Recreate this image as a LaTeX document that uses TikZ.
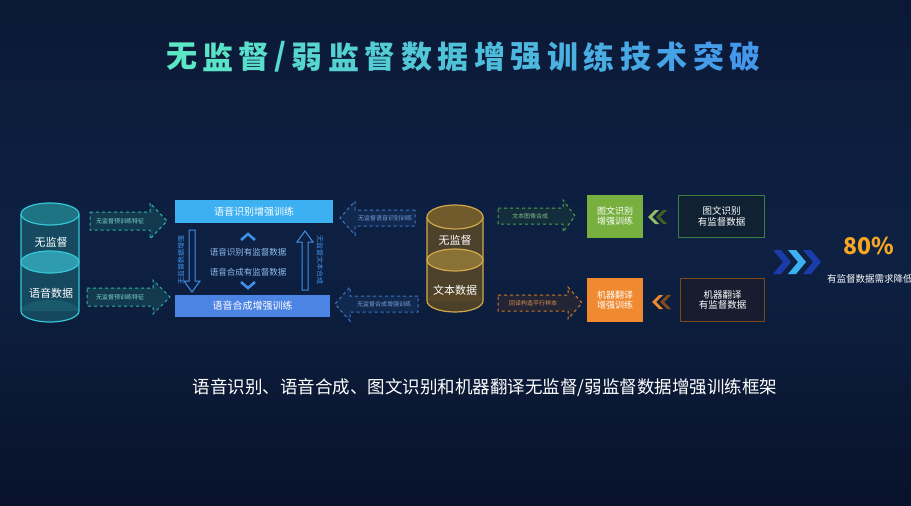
\documentclass[tikz,border=0pt]{standalone}
\usepackage{fontspec}
\newfontfamily\cjk{Noto Sans CJK SC}
\usetikzlibrary{shapes.geometric}
\definecolor{bgA}{HTML}{0B1936}
\definecolor{bgB}{HTML}{0E2143}
\definecolor{bgC}{HTML}{08122A}
\definecolor{tA}{HTML}{5CE8C6}
\definecolor{tB}{HTML}{4398EC}
\definecolor{teal}{HTML}{35C6D6}
\definecolor{tealbody}{HTML}{1B6676}
\definecolor{tealmid}{HTML}{2E9CAE}
\definecolor{gold}{HTML}{D2A94A}
\definecolor{goldbody}{HTML}{584726}
\definecolor{goldmid}{HTML}{8A7236}
\definecolor{arrteal}{HTML}{2FB5A8}
\definecolor{arrblue}{HTML}{3A78C8}
\definecolor{arrgreen}{HTML}{4AA050}
\definecolor{arrorange}{HTML}{D07828}
\definecolor{boxA}{HTML}{3DB0F2}
\definecolor{boxB}{HTML}{4C84E4}
\definecolor{midblue}{HTML}{3F8FE6}
\definecolor{midtext}{HTML}{8DBDF0}
\definecolor{grn}{HTML}{78B040}
\definecolor{org}{HTML}{F08A30}
\definecolor{pct}{HTML}{F5A623}
\newcommand\blockarrow[7]{%
  \filldraw[#1] (#2,{#5-#6}) -- (#3,{#5-#6}) -- (#3,{#5-#7}) -- (#4,#5)
    -- (#3,{#5+#7}) -- (#3,{#5+#6}) -- (#2,{#5+#6}) -- cycle;}
\tikzset{
  lbl/.style={font=\cjk\fontsize{#1}{#1}\selectfont, text=white, inner sep=0pt},
  arrlbl/.style={font=\cjk\fontsize{6}{6}\selectfont, inner sep=0pt},
  tealarr/.style={draw=arrteal, dashed, line width=1pt, fill=arrteal!25!bgA, fill opacity=0.8},
  bluearr/.style={draw=arrblue, dashed, line width=1pt, fill=arrblue!20!bgA, fill opacity=0.8},
  greenarr/.style={draw=arrgreen, dashed, line width=1pt, fill=arrgreen!18!bgA, fill opacity=0.8},
  orangearr/.style={draw=arrorange, dashed, line width=1pt, fill=arrorange!15!bgA, fill opacity=0.8},
  hollow/.style={draw=midblue, line width=1pt},
  chev/.style={draw=midblue, line width=2.6pt},
}
\begin{document}
\begin{tikzpicture}[x=1pt,y=-1pt]
\useasboundingbox (0,0) rectangle (911,506);
\clip (0,0) rectangle (911,506);
\shade[top color=bgA, bottom color=bgC, middle color=bgB] (0,0) rectangle (911,506);

% ---- title
\foreach \ch/\xx [count=\i] in {无/182,监/218,督/254,弱/307,监/343.5,督/380,数/416.5,据/453,增/489.5,强/526,训/562.5,练/599,技/635.5,术/672,突/708.5,破/745}{
  \pgfmathsetmacro\pc{100-100*((\xx-182)/563)}
  \node[font=\cjk\bfseries\fontsize{31}{31}\selectfont, text=tA!\pc!tB, inner sep=0pt] (t\i) at (\xx,57) {\ch};
}
\node[font=\cjk\bfseries\fontsize{31}{31}\selectfont, text=tA!81!tB, inner sep=0pt] (tslash) at (280.5,57) {/};

% ---- left teal cylinder
\fill[tealbody, fill opacity=0.6] (21,214) rectangle (79,311);
\fill[tealbody, fill opacity=0.6] (50,311) ellipse [x radius=29pt, y radius=11pt];
\draw[teal, line width=1.2pt] (21,214) -- (21,311) arc[start angle=180, end angle=360, x radius=29pt, y radius=11pt] -- (79,214);
\filldraw[draw=teal, fill=tealbody!85!teal, line width=1.2pt] (50,214) ellipse [x radius=29pt, y radius=11pt];
\filldraw[draw=teal, fill=tealmid, line width=1.2pt] (50,262) ellipse [x radius=29pt, y radius=11pt];
\node[lbl=11] (cylA1) at (51,242) {无监督};
\node[lbl=11] (cylA2) at (51,293) {语音数据};

% ---- teal arrows (to the right)
\blockarrow{tealarr}{90}{150}{167}{221}{9}{18}
\node[arrlbl, text=arrteal!60!white] (aA1) at (120,221) {无监督预训练特征};
\blockarrow{tealarr}{87}{153}{170}{297}{9}{17}
\node[arrlbl, text=arrteal!60!white] (aA2) at (120,297) {无监督预训练特征};

% ---- center boxes
\node[fill=boxA, minimum width=158pt, minimum height=23pt, inner sep=0pt, lbl=10] (sr) at (254,211.5) {语音识别增强训练};
\node[fill=boxB, minimum width=155pt, minimum height=22pt, inner sep=0pt, lbl=10] (ss) at (252.5,306) {语音合成增强训练};

% hollow vertical arrows
\draw[hollow] (189,230) -- (189,281) -- (184,281) -- (192,292) -- (200,281) -- (195,281) -- (195,230) -- cycle;
\draw[hollow] (302,290) -- (302,242) -- (297,242) -- (305,231) -- (313,242) -- (308,242) -- (308,290) -- cycle;
\node[font=\cjk\fontsize{7}{7}\selectfont, text=midblue, rotate=90, inner sep=0pt] (vl) at (181,260) {无监督数据增强};
\node[font=\cjk\fontsize{7}{7}\selectfont, text=midblue, rotate=-90, inner sep=0pt] (vr) at (320,260) {无监督文本合成};

% chevrons
\draw[chev] (241,240) -- (248,234) -- (255,240);
\draw[chev] (241,282) -- (248,288) -- (255,282);
\node[font=\cjk\fontsize{8.5}{8.5}\selectfont, text=midtext, inner sep=0pt] (m1) at (248,252) {语音识别有监督数据};
\node[font=\cjk\fontsize{8.5}{8.5}\selectfont, text=midtext, inner sep=0pt] (m2) at (248,272) {语音合成有监督数据};

% ---- blue arrows (to the left)
\blockarrow{bluearr}{415}{355}{340}{218}{8}{17}
\node[arrlbl, text=arrblue!70!white] (aB1) at (385,218) {无监督语音识别训练};
\blockarrow{bluearr}{418}{350}{335}{304}{8}{17}
\node[arrlbl, text=arrblue!70!white] (aB2) at (384,304) {无监督合成增强训练};

% ---- gold cylinder
\fill[goldbody, fill opacity=0.85] (427,217) rectangle (483,301);
\fill[goldbody, fill opacity=0.85] (455,301) ellipse [x radius=28pt, y radius=11pt];
\draw[gold, line width=1.2pt] (427,217) -- (427,301) arc[start angle=180, end angle=360, x radius=28pt, y radius=11pt] -- (483,217);
\filldraw[draw=gold, fill=goldbody!80!gold, line width=1.2pt] (455,217) ellipse [x radius=28pt, y radius=12pt];
\filldraw[draw=gold, fill=goldmid, line width=1.2pt] (455,260) ellipse [x radius=28pt, y radius=11pt];
\node[lbl=11] (cylB1) at (455,240) {无监督};
\node[lbl=11] (cylB2) at (455,290) {文本数据};

% ---- green / orange arrows
\blockarrow{greenarr}{498}{563}{575}{216}{8}{16}
\node[arrlbl, text=arrgreen!70!white] (aC1) at (530,216) {文本图像合成};
\blockarrow{orangearr}{498}{568}{582}{303}{8}{16}
\node[arrlbl, text=arrorange!85!white] (aC2) at (533,303) {回译构造平行样本};

% ---- right boxes
\node[fill=grn, minimum width=56pt, minimum height=43pt, inner sep=0pt, align=center, lbl=9] (gb) at (615,216.5) {图文识别\\[1pt]增强训练};
\node[fill=org, minimum width=56pt, minimum height=44pt, inner sep=0pt, align=center, lbl=9] (ob) at (615,300) {机器翻译\\[1pt]增强训练};
\node[draw=arrgreen!80!black, line width=1.5pt, fill=black!60!arrgreen!20!bgA, minimum width=86pt, minimum height=42pt, inner sep=0pt, align=center, lbl=9.5] (gd) at (721.5,216.5) {图文识别\\[1pt]有监督数据};
\node[draw=arrorange!60!black, line width=1.5pt, fill=black!65!arrorange!20!bgA, minimum width=84pt, minimum height=43pt, inner sep=0pt, align=center, lbl=9.5] (od) at (722.5,300) {机器翻译\\[1pt]有监督数据};

% small double chevrons (pointing left)
\fill[grn!80!white] (655,210) -- (648,217) -- (655,224) -- (659,224) -- (652,217) -- (659,210) -- cycle;
\fill[grn!55!black] (663,210) -- (656,217) -- (663,224) -- (667,224) -- (660,217) -- (667,210) -- cycle;
\fill[org] (659,295) -- (652,302) -- (659,309) -- (663,309) -- (656,302) -- (663,295) -- cycle;
\fill[org!55!black] (667,295) -- (660,302) -- (667,309) -- (671,309) -- (664,302) -- (671,295) -- cycle;

% big blue chevrons
\fill[blue!40!midblue!70!black] (773,250) -- (781,250) -- (791,262) -- (781,274) -- (773,274) -- (783,262) -- cycle;
\fill[boxA] (788,250) -- (796,250) -- (806,262) -- (796,274) -- (788,274) -- (798,262) -- cycle;
\fill[blue!40!midblue!70!black] (803,250) -- (811,250) -- (821,262) -- (811,274) -- (803,274) -- (813,262) -- cycle;

\node[font=\cjk\bfseries\fontsize{23}{23}\selectfont, text=pct, inner sep=0pt] (p80) at (869,246) {80\%};
\node[anchor=west, lbl=9.5] (red) at (827,279) {有监督数据需求降低};

% ---- subtitle
\node[lbl=17.5] (sub) at (485,388) {语音识别、语音合成、图文识别和机器翻译无监督/弱监督数据增强训练框架};
\end{tikzpicture}
\end{document}
